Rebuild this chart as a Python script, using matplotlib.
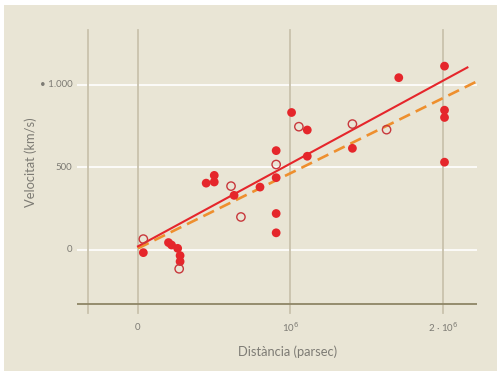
import matplotlib
matplotlib.use("Agg")
import matplotlib.pyplot as plt
from matplotlib.patches import Rectangle

# Filled circles: individual nebulae
dist_fill = [0.035, 0.20, 0.22, 0.26, 0.276, 0.276, 0.447, 0.50, 0.50, 0.63,
             0.80, 0.906, 0.906, 0.906, 0.906, 1.007, 1.11, 1.11, 1.406, 1.71,
             2.01, 2.01, 2.01, 2.01]
vel_fill = [-16, 45, 30, 10, -34, -70, 405, 452, 412, 331,
            381, 602, 438, 221, 104, 833, 727, 568, 616, 1044,
            1114, 847, 803, 532]

# Open circles: grouped nebulae
dist_open = [0.035, 0.27, 0.61, 0.675, 0.906, 1.055, 1.406, 1.63]
vel_open = [66, -114, 387, 200, 518, 747, 763, 729]

# fitted lines (start, end)
fit_solid_x = [0.0, 2.16]
fit_solid_y = [22, 1106]
fit_dash_x = [0.0, 2.23]
fit_dash_y = [10, 1025]

xticks = [0, 1, 2]
xtick_labels = ["0", "10$^6$", "2 · 10$^6$"]
yticks = [0, 500, 1000]
ytick_labels = ["0", "500", "• 1.000"]

bg = "#e9e5d5"
red = "#e5262b"
orange = "#ee8f2e"
txt = "#7d7b74"

plt.rcParams['font.family'] = ['Lato', 'DejaVu Sans']

fig = plt.figure(figsize=(5, 3.76), dpi=100)
fig.patch.set_facecolor("white")
fig.add_artist(Rectangle((4 / 500, 5 / 376), 493 / 500, 366 / 376,
                         transform=fig.transFigure, facecolor=bg,
                         edgecolor="none", zorder=-10))

ax = fig.add_axes([77 / 500, 1 - 316 / 376, 400 / 500, 288 / 376])
ax.set_facecolor("none")
for s in ax.spines.values():
    s.set_visible(False)
ax.set_xlim(-0.4, 2.223)
ax.set_ylim(-400, 1345)

# horizontal white grid lines
for yv in yticks:
    ax.plot([-0.4, 2.223], [yv, yv], color="white", lw=1.2, zorder=1)
# vertical lines
for xv in [-0.33] + xticks:
    ax.plot([xv, xv], [-382, 1335], color="#c9c2ad", lw=1.3, zorder=1)
# bottom axis line
ax.plot([-0.4, 2.223], [-327, -327], color="#8e8566", lw=1.3, zorder=2)

ax.plot(fit_dash_x, fit_dash_y, color=orange, lw=1.9, dashes=[4.5, 2.4],
        zorder=3, solid_capstyle="butt")
ax.plot(fit_solid_x, fit_solid_y, color=red, lw=1.5, zorder=3)

ax.scatter(dist_fill, vel_fill, s=40, color=red, edgecolors="none", zorder=4)
ax.scatter(dist_open, vel_open, s=36, facecolors="none", edgecolors="#c8383c",
           linewidths=1.0, zorder=4)

ax.set_xticks([])
ax.set_yticks([])
for xv, lab in zip(xticks, xtick_labels):
    ax.text(xv, -470, lab, ha="center", va="center", fontsize=7, color=txt)
for yv, lab in zip(yticks, ytick_labels):
    ax.text(-0.43, yv, lab, ha="right", va="center", fontsize=7, color=txt)

fig.text(288 / 500, 1 - 352 / 376, "Distància (parsec)", ha="center",
         va="center", fontsize=9.3, color=txt)
fig.text(31 / 500, 1 - 162 / 376, "Velocitat (km/s)", ha="center",
         va="center", rotation=90, fontsize=9.3, color=txt)

fig.savefig("out.png", dpi=100)
